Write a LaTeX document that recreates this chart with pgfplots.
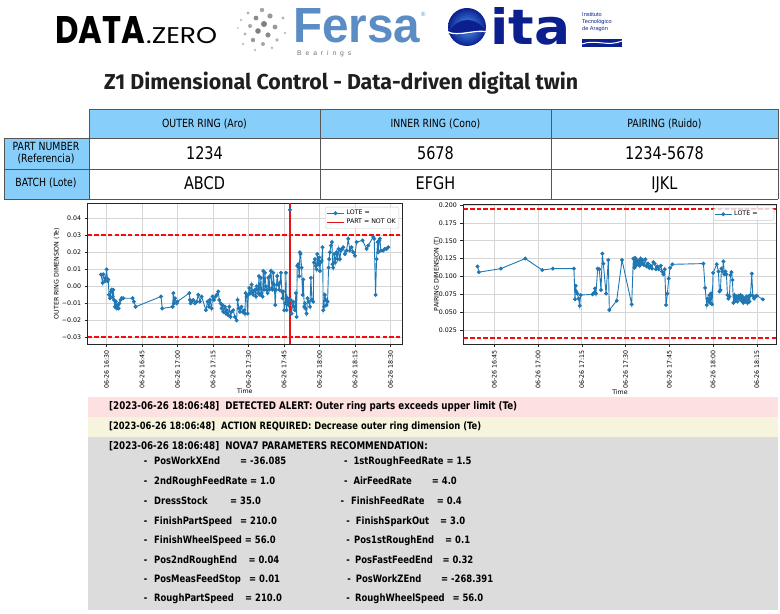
\documentclass[border=0pt]{standalone}
\usepackage{fontspec}
\usepackage{pgfplots}
\usepackage{pgfplotstable}
\pgfplotsset{compat=1.18}
\usepackage{graphicx}
\setmainfont{DejaVu Sans}
\newfontfamily\cond{DejaVu Sans}[FakeStretch=0.83]
\newfontfamily\titlef{Fira Sans}
\newfontfamily\lib{Liberation Sans}
\newfontfamily\pop{Poppins}
\definecolor{mplblue}{HTML}{1F77B4}
\definecolor{dashred}{RGB}{250,10,10}
\definecolor{vlred}{RGB}{230,20,20}
\definecolor{hdrblue}{HTML}{87CEFA}
\definecolor{alertpink}{HTML}{FDE1E1}
\definecolor{actyellow}{HTML}{F6F4DD}
\definecolor{recgrey}{HTML}{DCDCDC}
\definecolor{fersablue}{HTML}{5B8DC4}
\definecolor{itanavy}{HTML}{0B1F8F}
\definecolor{italight}{HTML}{4A9BF0}
\definecolor{tborder}{HTML}{555555}
\definecolor{gridgrey}{HTML}{D6D6D6}

\pgfplotstableread{
t v
27.61 0.007
28.31 0.002
28.59 0.007
29.30 0.003
29.58 0.005
30.00 0.010
30.42 0.003
30.70 0.004
30.99 -0.005
31.41 -0.007
31.83 -0.003
32.11 -0.002
32.53 -0.006
32.82 -0.002
33.10 -0.008
33.52 -0.012
33.94 -0.009
34.22 -0.013
34.65 -0.011
35.07 -0.013
35.35 -0.010
35.91 -0.008
36.34 -0.007
37.04 -0.007
40.98 -0.007
41.55 -0.009
42.25 -0.012
52.95 -0.006
53.51 -0.013
57.88 -0.012
58.16 -0.004
58.44 -0.010
58.86 -0.007
59.57 -0.010
59.85 -0.009
64.92 -0.004
65.20 -0.008
65.48 -0.010
65.90 -0.009
66.61 -0.008
67.31 -0.010
68.02 -0.009
68.72 -0.005
69.42 -0.009
70.13 -0.006
71.96 -0.014
72.66 -0.009
73.23 -0.012
73.65 -0.008
74.35 -0.013
74.77 -0.006
75.34 -0.008
76.04 -0.006
76.46 -0.005
77.17 -0.003
77.59 -0.008
78.15 -0.010
78.58 -0.013
79.00 -0.011
79.28 -0.015
79.98 -0.012
80.41 -0.016
80.69 -0.014
81.39 -0.017
81.81 -0.012
82.38 -0.018
82.80 -0.015
83.50 -0.014
84.21 -0.018
84.91 -0.020
85.33 -0.008
85.90 -0.013
86.32 -0.015
87.02 -0.012
87.45 -0.015
88.15 -0.014
88.43 -0.016
88.71 -0.004
89.14 -0.006
89.56 -0.016
89.84 -0.005
90.26 -0.001
90.83 -0.004
91.25 0.001
91.67 -0.003
91.95 -0.005
92.66 -0.002
93.08 -0.006
93.36 0.000
94.06 -0.004
94.35 0.006
94.77 -0.005
95.19 0.005
95.47 -0.004
95.89 -0.006
96.18 0.009
96.46 -0.002
96.88 0.008
97.30 0.000
97.58 -0.002
98.01 -0.004
98.29 0.005
98.71 -0.002
98.99 0.006
99.41 0.009
99.84 -0.001
100.12 -0.002
100.40 0.008
100.82 0.001
101.24 -0.011
101.53 -0.002
102.09 0.006
102.51 0.001
102.93 -0.002
103.22 0.002
103.64 0.008
104.06 -0.003
104.34 -0.007
104.62 -0.003
105.05 -0.014
105.47 -0.010
105.75 0.008
106.03 -0.014
106.45 -0.007
106.88 -0.011
107.16 -0.008
107.44 0.045
107.72 -0.008
108.14 -0.016
108.57 -0.010
108.85 -0.009
109.13 -0.012
109.55 -0.014
109.97 -0.004
110.26 -0.018
110.54 0.012
110.96 0.013
111.38 0.006
111.66 0.020
111.95 0.019
112.37 0.011
112.79 -0.005
113.07 0.004
113.49 -0.012
113.78 -0.010
114.06 -0.013
114.48 -0.016
114.90 -0.007
115.32 -0.009
115.89 -0.012
116.31 0.005
116.73 -0.008
117.30 -0.009
117.58 0.014
118.00 0.016
118.42 0.012
118.70 0.010
118.99 0.019
119.41 0.013
119.83 0.017
120.11 0.009
120.39 0.014
120.82 0.015
121.24 0.023
121.52 -0.014
121.80 -0.012
122.22 -0.005
122.65 -0.008
122.93 -0.011
123.35 -0.009
123.77 0.011
124.05 0.016
124.34 0.020
124.76 0.024
125.18 0.026
125.46 0.013
125.74 0.011
126.17 0.019
126.59 0.014
127.15 0.020
127.57 0.016
128.00 0.022
128.56 0.016
128.98 0.021
129.40 0.022
129.97 0.023
130.67 0.019
131.38 0.021
132.08 0.028
132.78 0.021
133.49 0.023
134.19 0.020
134.90 0.018
135.60 0.026
138.13 0.027
139.82 0.022
140.53 0.024
142.64 0.029
143.06 0.028
143.63 -0.005
144.05 0.016
144.47 0.026
144.75 0.020
145.17 0.027
145.46 0.028
145.88 0.021
146.86 0.021
147.57 0.022
148.27 0.022
148.98 0.023
}\outerdata

\pgfplotstableread{
t v
39.28 0.114
39.74 0.106
47.29 0.111
55.63 0.125
61.46 0.109
65.12 0.111
72.32 0.111
72.67 0.068
72.90 0.087
73.13 0.079
73.47 0.076
73.93 0.069
74.27 0.059
74.61 0.074
78.73 0.075
79.18 0.077
79.53 0.083
79.87 0.076
80.44 0.111
81.01 0.110
81.59 0.081
82.05 0.132
82.39 0.118
83.31 0.076
84.10 0.123
84.44 0.053
86.96 0.066
88.79 0.123
92.10 0.061
92.68 0.125
93.02 0.112
93.25 0.126
93.59 0.115
93.82 0.123
94.16 0.118
94.50 0.122
94.85 0.115
95.19 0.125
95.53 0.118
95.87 0.123
96.33 0.116
96.79 0.124
97.25 0.114
97.70 0.118
98.16 0.112
98.62 0.115
99.08 0.111
99.53 0.120
99.99 0.118
100.45 0.110
100.91 0.114
101.37 0.110
102.05 0.115
102.51 0.107
102.97 0.103
103.42 0.110
103.88 0.060
104.34 0.076
104.80 0.097
105.25 0.112
106.05 0.117
116.69 0.118
117.26 0.084
117.83 0.060
118.06 0.069
118.40 0.065
118.74 0.074
118.97 0.063
119.31 0.076
119.66 0.061
120.00 0.105
121.26 0.117
121.83 0.107
122.17 0.079
122.52 0.081
122.86 0.111
123.20 0.107
123.54 0.121
123.89 0.103
124.23 0.107
124.57 0.103
124.92 0.074
125.26 0.069
125.60 0.072
125.94 0.102
126.29 0.106
126.63 0.095
126.97 0.063
127.32 0.074
127.66 0.066
128.00 0.072
128.35 0.065
128.69 0.073
129.03 0.069
129.38 0.074
129.72 0.066
130.06 0.072
130.40 0.063
130.75 0.069
131.09 0.065
131.43 0.072
131.78 0.063
132.12 0.072
132.46 0.065
132.81 0.074
133.26 0.104
133.61 0.073
134.06 0.069
134.52 0.072
134.98 0.073
137.04 0.068
}\pairdata

\newcommand{\tb}[4]{\node[anchor=base west,inner sep=0pt] at (#1,#2) {\resizebox{#3bp}{!}{\cond\bfseries\fontsize{10}{12}\selectfont #4}};}
\newcommand{\pr}[3]{\node[anchor=base west,inner sep=0pt,font=\cond\bfseries\fontsize{10.2}{12}\selectfont] at (#1,#2) {#3};}
\newcommand{\tc}[3]{\node[anchor=base,inner sep=0pt] at (#1,#2) {#3};}

\pgfplotsset{
  mplstyle/.style={
    scale only axis, anchor=south west,
    tick pos=left, tick align=outside, major tick length=3bp,
    grid=major, grid style={gridgrey, line width=0.7bp},
    axis line style={black!85, line width=0.6bp},
    tick style={black!85, line width=0.5bp},
    ticklabel style={font=\fontsize{6.3}{7}\selectfont},
    x tick label style={rotate=90, anchor=east},
    label style={font=\fontsize{6.3}{7}\selectfont},
    scaled ticks=false,
    /pgf/number format/assume math mode=true,
    legend style={font=\fontsize{6.3}{7}\selectfont, draw=black!20, fill=white, fill opacity=0.8, text opacity=1, rounded corners=1.5pt, inner sep=1pt, row sep=-1pt},
    legend cell align=left,
  },
  limitline/.style={color=dashred, line width=1.9bp, dash pattern=on 4.5bp off 2.2bp},
}

\begin{document}
\begin{tikzpicture}
\useasboundingbox (0,0) rectangle (780bp,614bp);
\fill[white] (0,0) rectangle (780bp,614bp);
\begin{scope}[x=1bp,y=-1bp,yshift=614bp]
% ---- logos ----
\node[anchor=base west,inner sep=0pt] at (55,44) {\resizebox{90bp}{27bp}{\pop\bfseries DATA}};
\node[anchor=base west,inner sep=0pt] at (146,44) {\resizebox{71bp}{16bp}{\pop .ZERO}};
\foreach \px/\py/\rr/\gg in {262/10/2.2/35,270/16/2.6/40,256/18/2.4/45,264/24/3/50,275/27/2.4/40,250/26/2/35,258/31/2.8/50,268/35/2.6/45,245/34/1.6/30,253/40/2.2/40,263/44/2/35,277/40/1.8/30,241/20/1.4/25,248/13/1.6/30,285/33/1.4/25,272/48/1.5/25,243/44/1.3/25,283/18/1.6/30,255/50/1.3/25,238/28/1.2/20}
  {\fill[black!\gg] (\px,\py) circle (\rr);}
\node[anchor=base west,inner sep=0pt,text=fersablue] at (293,43) {\resizebox{127bp}{34bp}{\lib\bfseries Fersa}};
\node[anchor=base west,inner sep=0pt,text=fersablue] at (421,17) {\fontsize{6}{6}\selectfont\lib ®};
\node[anchor=base west,inner sep=0pt,text=black!55] at (297,56) {\lib\fontsize{6.8}{7}\selectfont B\hspace{3.9bp}e\hspace{3.9bp}a\hspace{3.9bp}r\hspace{3.9bp}i\hspace{3.9bp}n\hspace{3.9bp}g\hspace{3.9bp}s};
\shade[inner color=italight, outer color=itanavy] (467,27) circle (19);
\fill[itanavy] (448,33) .. controls (458,38) and (476,30) .. (486,33) arc[start angle=-20,end angle=-160,radius=19.6] -- cycle;
\draw[white,line width=1.3bp] (448,32) .. controls (458,37) and (476,29) .. (487,32);
\node[anchor=base west,inner sep=0pt,text=itanavy] at (490,45) {\resizebox{80bp}{37bp}{\bfseries ita}};
\node[anchor=north west,inner sep=0pt,align=left,text=itanavy,font=\lib\fontsize{5.6}{7}\selectfont] at (582,12) {Instituto\\Tecnológico\\de Aragón};
\fill[itanavy] (582,39) rectangle (622,47);
\draw[white,line width=1bp] (582,44) .. controls (595,39) and (608,47) .. (622,41);
% ---- title ----
\node[anchor=base west,inner sep=0pt,text=black!88] at (104,90) {\resizebox{474bp}{17.5bp}{\titlef\bfseries Z1 Dimensional Control - Data-driven digital twin}};
% ---- table ----
\fill[hdrblue] (89,109) rectangle (778,138);
\fill[hdrblue] (4,138) rectangle (89,199);
\draw[tborder,line width=0.9bp] (89,109) -- (778,109);
\draw[tborder,line width=0.9bp] (4,138) -- (778,138) (4,169) -- (778,169) (4,199) -- (778,199);
\draw[tborder,line width=0.9bp] (4,138) -- (4,199) (89,109) -- (89,199) (320,109) -- (320,199) (551,109) -- (551,199) (778,109) -- (778,199);
\begin{scope}[font=\cond\fontsize{11.3}{13}\selectfont]
\tc{204.5}{128}{OUTER RING (Aro)}
\tc{435.5}{128}{INNER RING (Cono)}
\tc{664.5}{128}{PAIRING (Ruido)}
\tc{46}{151}{PART NUMBER}
\tc{46}{163}{(Referencia)}
\tc{46}{187}{BATCH (Lote)}
\end{scope}
\begin{scope}[font=\cond\fontsize{17.5}{20}\selectfont]
\tc{204.5}{160}{1234}
\tc{435.5}{160}{5678}
\tc{664.5}{160}{1234-5678}
\tc{204.5}{190}{ABCD}
\tc{435.5}{190}{EFGH}
\tc{664.5}{190}{IJKL}
\end{scope}
% ---- alert boxes ----
\fill[alertpink] (88,397) rectangle (778,417);
\fill[actyellow] (88,417) rectangle (778,437);
\fill[recgrey] (88,437) rectangle (778,610);
\tb{109}{410}{408}{[2023-06-26 18:06:48]\ \ DETECTED ALERT: Outer ring parts exceeds upper limit (Te)}
\tb{109}{430}{372}{[2023-06-26 18:06:48]\ \ ACTION REQUIRED: Decrease outer ring dimension (Te)}
\tb{109}{450}{318.5}{[2023-06-26 18:06:48]\ \ NOVA7 PARAMETERS RECOMMENDATION:}
% parameters: dashes
\foreach \dx/\dy in {143.8/464.8,143.8/484.8,143.8/504.1,143.8/524.1,143.8/543.5,143.8/563.1,143.8/582.8,143.8/601.8,
  343.8/464.8,343.8/484.8,340.5/504.1,346.2/524.1,346.2/543.5,346.2/563.1,347.2/582.8,346.2/601.8}
  {\pr{\dx}{\dy}{-}}
\pr{154}{464.8}{PosWorkXEnd}
\pr{240}{464.8}{= -36.085}
\pr{353.3}{464.8}{1stRoughFeedRate = 1.5}
\pr{154}{484.8}{2ndRoughFeedRate = 1.0}
\pr{353.3}{484.8}{AirFeedRate}
\pr{431.7}{484.8}{= 4.0}
\pr{154}{504.1}{DressStock}
\pr{230}{504.1}{= 35.0}
\pr{351}{504.1}{FinishFeedRate}
\pr{436.7}{504.1}{= 0.4}
\pr{154}{524.1}{FinishPartSpeed}
\pr{240}{524.1}{= 210.0}
\pr{355.7}{524.1}{FinishSparkOut}
\pr{440}{524.1}{= 3.0}
\pr{154}{543.5}{FinishWheelSpeed = 56.0}
\pr{354}{543.5}{Pos1stRoughEnd}
\pr{445}{543.5}{= 0.1}
\pr{154}{563.1}{Pos2ndRoughEnd}
\pr{248.3}{563.1}{= 0.04}
\pr{355}{563.1}{PosFastFeedEnd}
\pr{442.3}{563.1}{= 0.32}
\pr{154}{582.8}{PosMeasFeedStop}
\pr{249}{582.8}{= 0.01}
\pr{355.7}{582.8}{PosWorkZEnd}
\pr{441}{582.8}{= -268.391}
\pr{154}{601.8}{RoughPartSpeed}
\pr{245}{601.8}{= 210.0}
\pr{355}{601.8}{RoughWheelSpeed}
\pr{452.3}{601.8}{= 56.0}
\end{scope}

% ---- left chart ----
\begin{axis}[mplstyle,
  at={(87.7bp,270bp)}, width=314.3bp, height=141bp,
  xmin=22, xmax=154.8, ymin=-0.0339, ymax=0.049,
  xtick={30,45,60,75,90,105,120,135,150},
  xticklabels={06-26 16:30,06-26 16:45,06-26 17:00,06-26 17:15,06-26 17:30,06-26 17:45,06-26 18:00,06-26 18:15,06-26 18:30},
  ytick={-0.03,-0.02,-0.01,0,0.01,0.02,0.03,0.04},
  yticklabels={−0.03,−0.02,−0.01,0.00,0.01,0.02,0.03,0.04},
  xlabel={Time}, ylabel={OUTER RING DIMENSION (Te)},
  xlabel style={at={(axis description cs:0.5,-0.333)}, anchor=center},
  ylabel style={at={(axis description cs:-0.0986,0.5)}, anchor=center},
  legend style={at={(axis description cs:1,1)}, xshift=-3bp, yshift=-4bp, anchor=north east},
]
\addplot[color=mplblue, line width=0.9bp, mark=*, mark size=1.5bp, mark options={fill=mplblue,draw=mplblue,solid}] table[x=t,y=v] {\outerdata};
\addlegendentry{LOTE = }
\addplot[color=vlred, line width=1.4bp] coordinates {(107.44,-0.0339) (107.44,0.049)};
\addlegendentry{PART = NOT OK}
\addplot[limitline] coordinates {(22,0.03) (154.8,0.03)};
\addplot[limitline] coordinates {(22,-0.03) (154.8,-0.03)};
\end{axis}

% ---- right chart ----
\begin{axis}[mplstyle,
  at={(463.3bp,270bp)}, width=313.4bp, height=140bp,
  xmin=34.4, xmax=141.8, ymin=0.0055, ymax=0.2014,
  xtick={45,60,75,90,105,120,135},
  xticklabels={06-26 16:45,06-26 17:00,06-26 17:15,06-26 17:30,06-26 17:45,06-26 18:00,06-26 18:15},
  ytick={0.025,0.05,0.075,0.1,0.125,0.15,0.175,0.2},
  yticklabels={0.025,0.050,0.075,0.100,0.125,0.150,0.175,0.200},
  xlabel={Time}, ylabel={PAIRING DIMENSION (T)},
  xlabel style={at={(axis description cs:0.5,-0.343)}, anchor=center},
  ylabel style={at={(axis description cs:-0.0849,0.5)}, anchor=center},
  legend style={at={(axis description cs:1,1)}, xshift=-2.7bp, yshift=-4bp, anchor=north east},
]
\addplot[color=mplblue, line width=0.9bp, mark=*, mark size=1.5bp, mark options={fill=mplblue,draw=mplblue,solid}] table[x=t,y=v] {\pairdata};
\addlegendentry{LOTE = \phantom{IJKL}}
\addplot[limitline] coordinates {(34.4,0.194) (141.8,0.194)};
\addplot[limitline] coordinates {(34.4,0.0143) (141.8,0.0143)};
\end{axis}
\end{tikzpicture}
\end{document}
